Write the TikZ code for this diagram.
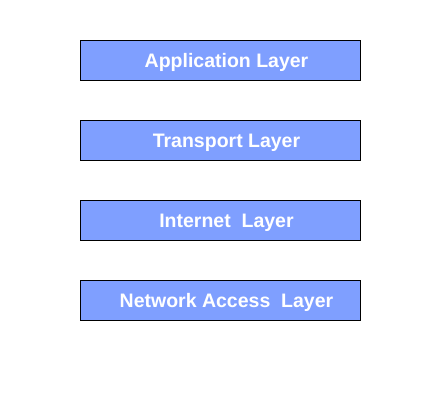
\documentclass[tikz,border=0pt]{standalone}
\usepackage{fontspec}
\setmainfont{Liberation Sans}
\usetikzlibrary{positioning}
\definecolor{layerblue}{HTML}{7F9FFF}
\tikzset{
    layer/.style={draw=black,line width=0.8pt,fill=layerblue,minimum width=280pt,
        minimum height=40pt,inner sep=0pt,outer sep=0pt},
    layertext/.style={text=white,anchor=base,inner sep=0pt,
        font=\fontsize{19.5}{22}\selectfont\bfseries}
}

\begin{document}
\begin{tikzpicture}[x=1pt,y=-1pt]
            \useasboundingbox (0,0) rectangle (441,401);
            % the four layers, top to bottom
            \foreach \y/\nm/\txt in {60/app/{Application Layer},140/trans/{Transport Layer},
                                     220/inet/{Internet\ \ Layer},300/netacc/{Network Access\ \ Layer}}
                {
                \node[layer] (\nm) at (220,\y) {};
                \node[layertext] (\nm txt) at (226.5,\y+7.2) {\txt};
                }
        \end{tikzpicture}
\end{document}
